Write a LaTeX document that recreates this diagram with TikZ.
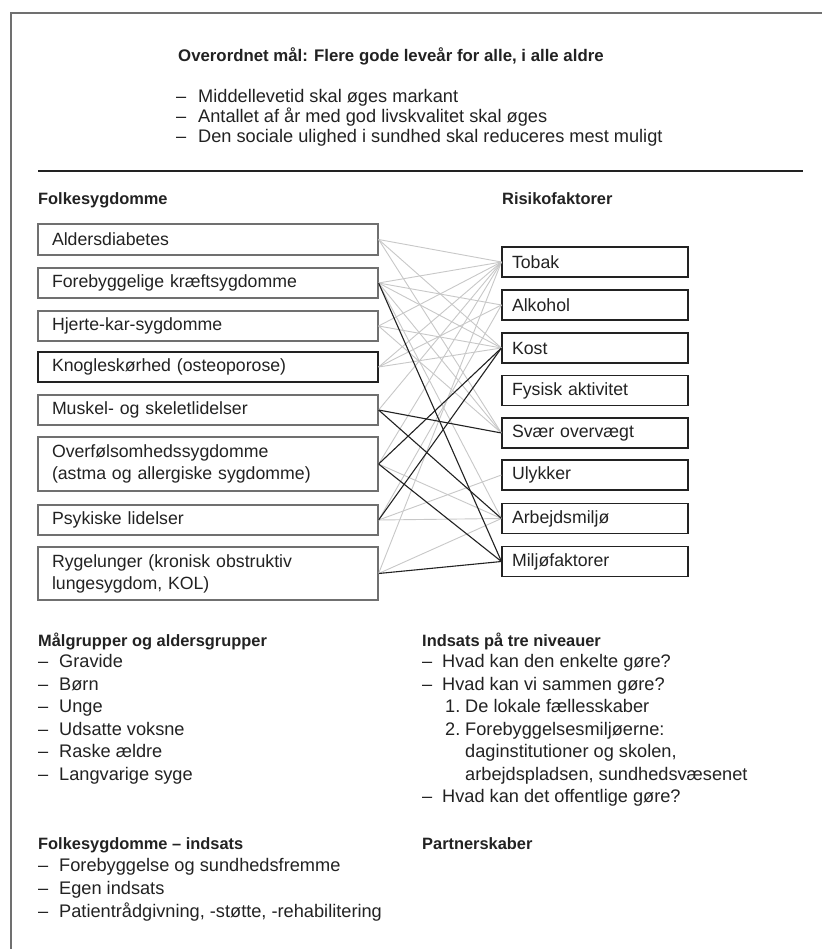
\documentclass[tikz,border=0pt]{standalone}
\usepackage{fontspec}
\setmainfont{Liberation Sans}
\definecolor{ink}{HTML}{222222}
\definecolor{lightln}{HTML}{C8C8C8}
\definecolor{boxgray}{HTML}{707070}
\begin{document}
\begin{tikzpicture}[x=1pt,y=-1pt,
  txt/.style={inner sep=0pt, anchor=west, text=ink, font=\fontsize{18.2}{22}\selectfont, text height=12.5pt, text depth=3.8pt},
  hdr/.style={inner sep=0pt, anchor=west, text=ink, font=\fontsize{16.4}{22}\selectfont\bfseries, text height=12pt, text depth=3.5pt},
  lbox/.style={draw=boxgray, line width=1.2pt, rectangle, minimum width=340pt, text width=312pt, inner xsep=14pt, inner ysep=0pt, align=left, text=ink, font=\fontsize{17.7}{22}\selectfont},
  rbox/.style={draw=ink, line width=1.1pt, rectangle, minimum width=186pt, text width=166pt, inner xsep=10pt, inner ysep=0pt, align=left, text=ink, font=\fontsize{17.7}{22}\selectfont, minimum height=30pt},
  grayln/.style={draw=lightln, line width=0.9pt},
  darkln/.style={draw=ink, line width=1.1pt}
]
\useasboundingbox (0,0) rectangle (822,949);
\fill[white] (0,0) rectangle (822,949);
% frame
\coordinate (frTL) at (11,13);
\coordinate (frTR) at (822,13);
\coordinate (frBL) at (11,949);
\draw[boxgray, line width=1.3pt] (frBL) -- (frTL) -- (frTR);

% title area
\node[hdr, font=\fontsize{16.8}{22}\selectfont\bfseries] (title) at (178,57) {Overordnet mål: Flere gode leveår for alle, i alle aldre};
\node[txt] (d1) at (176,98) {–};
\node[txt] (t1) at (198,98) {Middellevetid skal øges markant};
\node[txt] (d2) at (176,118) {–};
\node[txt] (t2) at (198,118) {Antallet af år med god livskvalitet skal øges};
\node[txt] (d3) at (176,138) {–};
\node[txt] (t3) at (198,138) {Den sociale ulighed i sundhed skal reduceres mest muligt};

\coordinate (ruleL) at (38,171);
\coordinate (ruleR) at (803,171);
\draw[ink, line width=1.1pt] (ruleL) -- (ruleR);

\node[hdr] (hfolk) at (38,200) {Folkesygdomme};
\node[hdr] (hrisk) at (502,200) {Risikofaktorer};

% left boxes
\node[lbox, minimum height=31pt] (L1) at (208,239.5) {Aldersdiabetes};
\node[lbox, minimum height=30pt] (L2) at (208,283) {Forebyggelige kræftsygdomme};
\node[lbox, minimum height=30pt] (L3) at (208,326) {Hjerte-kar-sygdomme};
\node[lbox, minimum height=30pt, draw=ink] (L4) at (208,367) {Knogleskørhed (osteoporose)};
\node[lbox, minimum height=30pt] (L5) at (208,410) {Muskel- og skeletlidelser};
\node[lbox, minimum height=54pt] (L6) at (208,464) {Overfølsomhedssygdomme\\(astma og allergiske sygdomme)};
\node[lbox, minimum height=30pt] (L7) at (208,520) {Psykiske lidelser};
\node[lbox, minimum height=53pt] (L8) at (208,573.5) {Rygelunger (kronisk obstruktiv\\lungesygdom, KOL)};

% right boxes
\node[rbox] (R1) at (595,262) {Tobak};
\node[rbox] (R2) at (595,305) {Alkohol};
\node[rbox] (R3) at (595,348) {Kost};
\node[rbox] (R4) at (595,390.5) {Fysisk aktivitet};
\node[rbox] (R5) at (595,433) {Svær overvægt};
\node[rbox] (R6) at (595,475) {Ulykker};
\node[rbox] (R7) at (595,518.5) {Arbejdsmiljø};
\node[rbox] (R8) at (595,561.5) {Miljøfaktorer};

% gray connectors
\foreach \a/\b in {L1/R1, L1/R3, L1/R5,
                   L2/R1, L2/R2, L2/R3, L2/R5, L2/R7,
                   L3/R1, L3/R3, L3/R5,
                   L4/R1, L4/R2, L4/R3,
                   L5/R1,
                   L6/R1, L6/R7,
                   L7/R2, L7/R6, L7/R7,
                   L8/R1, L8/R7}
  \draw[grayln] (\a.east) -- (\b.west);
% dark connectors
\foreach \a/\b in {L2/R8, L5/R5, L5/R7, L6/R3, L6/R8, L7/R3, L8/R8}
  \draw[darkln] (\a.east) -- (\b.west);

% lower left
\node[hdr] (hmaal) at (38,642) {Målgrupper og aldersgrupper};
\node[txt] (m1d) at (38,663.5) {–};  \node[txt] (m1) at (59,663.5) {Gravide};
\node[txt] (m2d) at (38,686) {–};    \node[txt] (m2) at (59,686) {Børn};
\node[txt] (m3d) at (38,708.5) {–};  \node[txt] (m3) at (59,708.5) {Unge};
\node[txt] (m4d) at (38,731) {–};    \node[txt] (m4) at (59,731) {Udsatte voksne};
\node[txt] (m5d) at (38,753.5) {–};  \node[txt] (m5) at (59,753.5) {Raske ældre};
\node[txt] (m6d) at (38,776) {–};    \node[txt] (m6) at (59,776) {Langvarige syge};

% lower right
\node[hdr] (hind) at (422,642) {Indsats på tre niveauer};
\node[txt] (i1d) at (422,663.5) {–}; \node[txt] (i1) at (442,663.5) {Hvad kan den enkelte gøre?};
\node[txt] (i2d) at (422,686) {–};   \node[txt] (i2) at (442,686) {Hvad kan vi sammen gøre?};
\node[txt] (n1) at (445,708.5) {1.}; \node[txt] (n1t) at (465,708.5) {De lokale fællesskaber};
\node[txt] (n2) at (445,731) {2.};   \node[txt] (n2t) at (465,731) {Forebyggelsesmiljøerne:};
\node[txt] (n2b) at (465,753.5) {daginstitutioner og skolen,};
\node[txt] (n2c) at (465,776) {arbejdspladsen, sundhedsvæsenet};
\node[txt] (i3d) at (422,798.5) {–}; \node[txt] (i3) at (442,798.5) {Hvad kan det offentlige gøre?};

% bottom
\node[hdr] (hfi) at (38,845) {Folkesygdomme – indsats};
\node[txt] (f1d) at (38,867) {–};   \node[txt] (f1) at (59,867) {Forebyggelse og sundhedsfremme};
\node[txt] (f2d) at (38,890) {–};   \node[txt] (f2) at (59,890) {Egen indsats};
\node[txt] (f3d) at (38,913) {–};   \node[txt] (f3) at (59,913) {Patientrådgivning, -støtte, -rehabilitering};
\node[hdr] (hpart) at (422,845) {Partnerskaber};
\end{tikzpicture}
\end{document}
